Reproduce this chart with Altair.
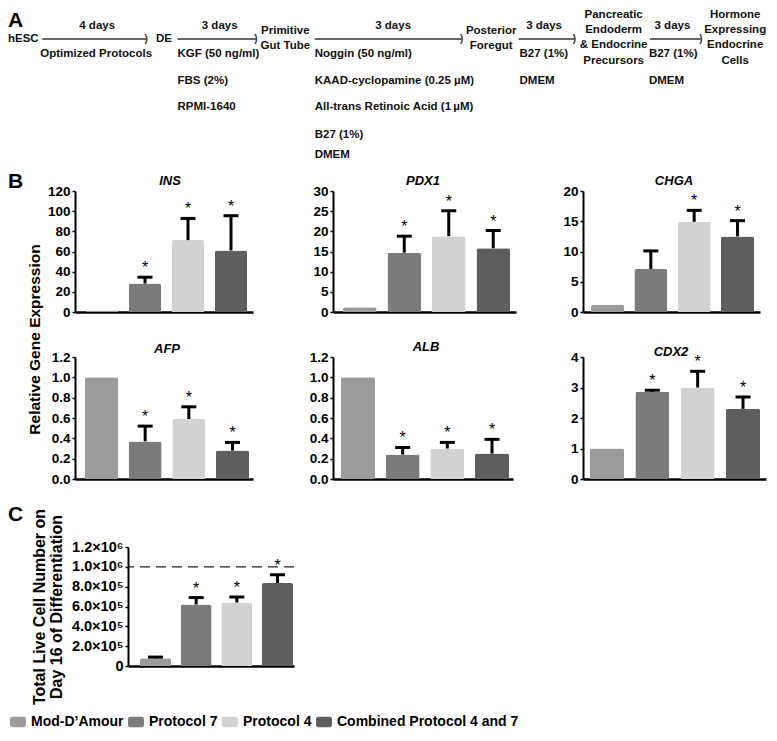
import altair as alt
import pandas as pd

FONT = "Liberation Sans"

# ---------------- data ----------------
groups = ["Mod-D\u2019Amour", "Protocol 7", "Protocol 4", "Combined Protocol 4 and 7"]
group_colors = ["#9b9b9b", "#7b7b7b", "#d2d2d2", "#5e5e5e"]

gene_names = ["INS", "PDX1", "CHGA", "AFP", "ALB", "CDX2"]
gene_means = [
    [1.5, 28.2, 71.3, 61.0],
    [1.2, 14.7, 18.8, 15.8],
    [1.2, 7.1, 14.9, 12.5],
    [1.0, 0.37, 0.59, 0.28],
    [1.0, 0.24, 0.30, 0.25],
    [1.0, 2.86, 3.0, 2.3],
]
gene_errs = [
    [0, 6.3, 21.5, 34.5],
    [0, 4.1, 6.3, 4.4],
    [0, 3.0, 1.9, 2.6],
    [0, 0.15, 0.12, 0.08],
    [0, 0.07, 0.06, 0.14],
    [0, 0.05, 0.53, 0.39],
]
gene_sig = [
    [0, 1, 1, 1],
    [0, 1, 1, 1],
    [0, 0, 1, 1],
    [0, 1, 1, 1],
    [0, 1, 1, 1],
    [0, 1, 1, 1],
]
gene_ymax = [120, 30, 20, 1.2, 1.2, 4]
gene_ticks = [
    [0, 20, 40, 60, 80, 100, 120],
    [0, 5, 10, 15, 20, 25, 30],
    [0, 5, 10, 15, 20],
    [0, 0.2, 0.4, 0.6, 0.8, 1.0, 1.2],
    [0, 0.2, 0.4, 0.6, 0.8, 1.0, 1.2],
    [0, 1, 2, 3, 4],
]
gene_formats = ["d", "d", "d", ".1f", ".1f", "d"]
gene_axis_title = "Relative Gene Expression"

cells_mean = [0.77e5, 6.2e5, 6.4e5, 8.37e5]
cells_err = [0.13e5, 0.7e5, 0.56e5, 0.83e5]
cells_sig = [0, 1, 1, 1]
cells_ticks = [0, 200000, 400000, 600000, 800000, 1000000, 1200000]
cells_tick_labels = ["0", "2.0\u00d710\u2075", "4.0\u00d710\u2075", "6.0\u00d710\u2075",
                     "8.0\u00d710\u2075", "1.0\u00d710\u2076", "1.2\u00d710\u2076"]
cells_threshold = 1000000
cells_title = ["Total Live Cell Number on", "Day 16 of Differentiation"]

# panel A flow diagram text
flow_center = [
    ("4 days", 93, 19), ("Optimized Protocols", 92, 47),
    ("3 days", 218, 19), ("Primitive", 285, 24), ("Gut Tube", 285, 39),
    ("3 days", 395, 19), ("Posterior", 495, 24), ("Foregut", 495, 39),
    ("3 days", 549, 19),
    ("Pancreatic", 620, 8), ("Endoderm", 620, 23), ("& Endocrine", 620, 38), ("Precursors", 620, 54),
    ("3 days", 680, 19),
    ("Hormone", 744, 8), ("Expressing", 744, 23), ("Endocrine", 744, 38), ("Cells", 744, 54),
]
flow_left = [
    ("hESC", 2, 32), ("DE", 153, 32),
    ("KGF (50 ng/ml)", 175, 47), ("FBS (2%)", 175, 74), ("RPMI-1640", 175, 100),
    ("Noggin (50 ng/ml)", 315, 47), ("KAAD-cyclopamine (0.25 \u00b5M)", 315, 74),
    ("All-trans Retinoic Acid (1\u2009\u00b5M)", 315, 100), ("B27 (1%)", 315, 128), ("DMEM", 315, 148),
    ("B27 (1%)", 524, 47), ("DMEM", 524, 74),
    ("B27 (1%)", 656, 47), ("DMEM", 656, 74),
]
flow_arrows = [(37, 143), (175, 255), (315, 465), (523, 580), (657, 709)]
flow_arrow_y = 32

# ---------------- layout (page pixel coordinates) ----------------
OX, OY = 75, 8           # page position of the chart origin
A_W, A_H = 600, 163


def PX(rx):
    return 8 + (rx - 2) * 0.98


def PY(ry):
    return ry + 7


xsA = alt.Scale(domain=[OX, OX + A_W], nice=False, zero=False)
ysA = alt.Scale(domain=[OY, OY + A_H], nice=False, zero=False, reverse=True)
XA = alt.X("px:Q", scale=xsA, axis=None)
YA = alt.Y("py:Q", scale=ysA, axis=None)

df_c = pd.DataFrame({"label": [t for t, _, _ in flow_center],
                     "px": [PX(x) for _, x, _ in flow_center],
                     "py": [PY(y) for _, _, y in flow_center]})
df_l = pd.DataFrame({"label": [t for t, _, _ in flow_left],
                     "px": [PX(x) for _, x, _ in flow_left],
                     "py": [PY(y) for _, _, y in flow_left]})
df_ar = pd.DataFrame({"px": [PX(a) for a, _ in flow_arrows],
                      "px2": [PX(b) for _, b in flow_arrows],
                      "py": [PY(flow_arrow_y)] * len(flow_arrows)})
df_A = pd.DataFrame({"label": ["A"], "px": [8], "py": [10]})

txt_style = dict(font=FONT, fontSize=11.5, fontWeight="bold", color="#111")
letter_style = dict(align="left", baseline="top", font=FONT, fontSize=21, fontWeight="bold", color="black")
A_chart = alt.layer(
    alt.Chart(df_c).mark_text(align="center", baseline="middle", **txt_style).encode(x=XA, y=YA, text="label:N"),
    alt.Chart(df_l).mark_text(align="left", baseline="middle", **txt_style).encode(x=XA, y=YA, text="label:N"),
    alt.Chart(df_ar).mark_rule(color="#333", strokeWidth=1.3).encode(x=XA, x2="px2:Q", y=YA),
    alt.Chart(df_ar).mark_text(text=")", font=FONT, fontSize=10, fontWeight="bold", color="#333",
                               align="center", baseline="middle").encode(
        x=alt.X("px2:Q", scale=xsA, axis=None), y=YA),
    alt.Chart(df_A).mark_text(**letter_style).encode(x=XA, y=YA, text="label:N"),
).properties(width=A_W, height=A_H)

# panel geometry: plot width, height, first bar offset, last bar end, bar width, title x, title y
GEO = [(178, 121, 11, 172, 32, 95, -10), (183, 121, 10, 177, 33.5, 90, -10), (177, 121, 8, 171, 33, 91, -10),
       (178, 122, 10, 174, 33, 92, -8), (180, 122, 8, 176, 34, 93, -10), (183, 122, 7, 177, 34, 88, -5)]
C_GEO = (166, 119, 12, 165, 31, 0, 0)

RR_PATH = ("M -0.7 -0.65 L 0.7 -0.65 Q 1 -0.65 1 -0.35 L 1 0.35 Q 1 0.65 0.7 0.65 "
           "L -0.7 0.65 Q -1 0.65 -1 0.35 L -1 -0.35 Q -1 -0.65 -0.7 -0.65 Z")


def letter_layer(letter, dx, dy):
    return alt.Chart(pd.DataFrame({"label": [letter]})).mark_text(**letter_style).encode(
        x=alt.value(dx), y=alt.value(dy), text="label:N")


def bar_panel(means, errs, sig, ymax, ticks, geo, axis_kw, title=None, legend=None, extra=(), pre=None):
    W, H, a, b, bw, tx, ty = geo
    step = (b - a - bw) / 3.0
    pin = 1 - bw / step
    pout = (W / step - 4 + pin) / 2
    align = a / (W - step * (4 - pin))
    df = pd.DataFrame({"group": groups, "mean": means, "err": errs, "sig": sig,
                       "fill": group_colors})
    df["top"] = df["mean"] + df["err"]
    xsc = alt.Scale(domain=groups, paddingInner=pin, paddingOuter=max(pout, 0), align=align)
    xax = alt.Axis(title=None, labels=False, ticks=False, domain=True, domainColor="black",
                   domainWidth=2.5, grid=False)
    X = alt.X("group:N", scale=xsc, axis=xax, sort=groups)
    ysc = alt.Scale(domain=[0, ymax], nice=False, zero=True)
    ykw = dict(values=ticks, grid=False, domainColor="black", domainWidth=2, tickColor="black",
               tickWidth=1.5, tickSize=3, labelPadding=2, labelFont=FONT, labelFontSize=13.5,
               labelFontWeight="bold", labelColor="black", labelFlush=False, title=None)
    ykw.update(axis_kw)
    yax = alt.Axis(**ykw)
    base = alt.Chart(df)
    eb = base.transform_filter("datum.err > 0")
    if legend is None:
        color = alt.Color("fill:N", scale=None)
    else:
        color = alt.Color("group:N", scale=alt.Scale(domain=groups, range=group_colors), legend=legend)
    layers = []
    if pre is not None:
        layers.append(pre(ysc, yax))
    layers.append(base.mark_bar(cornerRadiusTopLeft=2, cornerRadiusTopRight=2).encode(
        x=X, y=alt.Y("mean:Q", scale=ysc, axis=yax), color=color))
    layers.append(eb.mark_rule(color="black", strokeWidth=3).encode(
        x=X, y=alt.Y("mean:Q", scale=ysc, axis=yax), y2="top:Q"))
    layers.append(eb.mark_tick(color="black", thickness=3, size=15, opacity=1).encode(
        x=X, y=alt.Y("top:Q", scale=ysc, axis=yax)))
    layers.append(base.transform_filter("datum.sig == 1").mark_text(
        text="*", font=FONT, fontSize=16, baseline="alphabetic", dy=-4, color="black").encode(
        x=X, y=alt.Y("top:Q", scale=ysc, axis=yax)))
    if title:
        layers.append(alt.Chart(pd.DataFrame({"label": [title]})).mark_text(
            font=FONT, fontSize=13, fontStyle="italic", fontWeight="bold", color="black",
            align="center", baseline="middle").encode(x=alt.value(tx), y=alt.value(ty), text="label:N"))
    layers.extend(extra)
    return alt.layer(*layers).properties(width=W, height=H)


ROW1_TOP, ROW2_TOP, C_TOP, C_LEFT = 191, 357, 547, 128

gene_axis_kw = []
for i in range(6):
    kw = dict(format=gene_formats[i])
    if i == 3:
        kw.update(title=gene_axis_title, titleAngle=270, titleX=34 - OX, titleY=339 - ROW2_TOP,
                  titleAlign="center", titleBaseline="middle", titleFont=FONT, titleFontSize=15.5,
                  titleFontWeight="bold", titleColor="black")
    gene_axis_kw.append(kw)

gene_charts = [
    bar_panel(gene_means[i], gene_errs[i], gene_sig[i], gene_ymax[i], gene_ticks[i], GEO[i],
              gene_axis_kw[i], title=gene_names[i],
              extra=[letter_layer("B", 8 - OX, 171 - ROW1_TOP)] if i == 0 else [])
    for i in range(6)
]

label_expr = " : ".join(
    "abs(datum.value - %d) < 1 ? '%s'" % (v, s) for v, s in zip(cells_ticks, cells_tick_labels)
) + " : ''"


def threshold_layer(ysc, yax):
    return alt.Chart(pd.DataFrame({"v": [cells_threshold]})).mark_rule(
        strokeDash=[10, 6], strokeWidth=1.2, color="#222").encode(y=alt.Y("v:Q", scale=ysc, axis=yax))


legend = alt.Legend(orient="none", legendX=10 - C_LEFT, legendY=714 - C_TOP, direction="horizontal",
                    columns=4, title=None, symbolType=RR_PATH, symbolSize=256, symbolStrokeWidth=0,
                    symbolOpacity=1, labelFont=FONT, labelFontSize=14, labelFontWeight="bold",
                    labelColor="black", labelOffset=5, columnPadding=4, padding=0, labelLimit=400)

C_chart = bar_panel(cells_mean, cells_err, cells_sig, 1200000, cells_ticks, C_GEO,
                    dict(labelExpr=label_expr, labelFontSize=14.5, title=cells_title, titleFont=FONT,
                         titleFontSize=16, titleFontWeight="bold", titleColor="black", titlePadding=7,
                         titleLineHeight=17),
                    legend=legend, pre=threshold_layer,
                    extra=[letter_layer("C", 8 - C_LEFT, 504 - C_TOP)])


def blank(w, h):
    return alt.Chart(pd.DataFrame({"v": [0]})).mark_text(text="").encode(
        x=alt.value(0), y=alt.value(0)).properties(width=w, height=h)


B_grid = alt.concat(
    gene_charts[0], blank(333 - OX - GEO[0][0], 1), gene_charts[1], blank(583 - 333 - GEO[1][0], 1), gene_charts[2],
    gene_charts[3], blank(1, 1), gene_charts[4], blank(1, 1), gene_charts[5],
    columns=5, spacing={"row": ROW2_TOP - ROW1_TOP - GEO[0][1], "column": 0}, bounds="flush", align="each",
)

C_row = alt.hconcat(blank(C_LEFT - OX, 1), C_chart, spacing=0, bounds="flush").resolve_scale(color="independent")

lower = alt.vconcat(B_grid, C_row, spacing=18).resolve_scale(color="independent")

chart = alt.vconcat(A_chart, lower, spacing=0).resolve_scale(
    color="independent").properties(padding=0).configure(font=FONT).configure_view(
    stroke="transparent", strokeWidth=0)

chart.save("out.html", embed_options={"renderer": "svg", "actions": False})
